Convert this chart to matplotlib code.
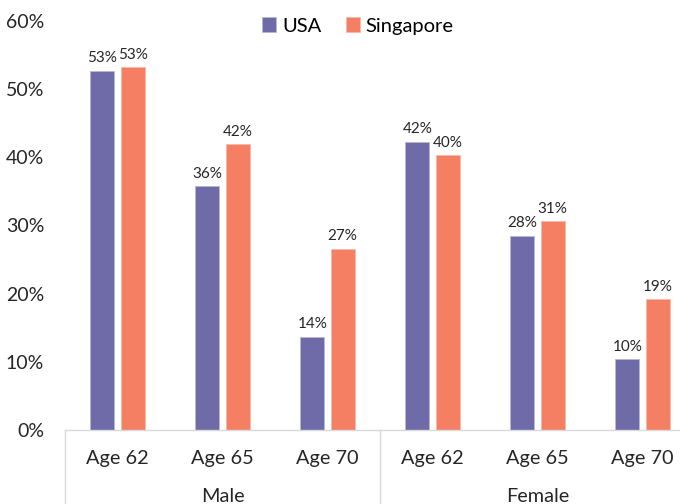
import matplotlib
matplotlib.use("Agg")
import matplotlib.pyplot as plt
import matplotlib.transforms as mtransforms
import numpy as np

# data (percent)
ages = ["Age 62", "Age 65", "Age 70", "Age 62", "Age 65", "Age 70"]
groups = ["Male", "Female"]
usa = [52.7, 35.8, 13.7, 42.3, 28.5, 10.4]
singapore = [53.2, 41.9, 26.6, 40.3, 30.6, 19.2]

usa_color = "#6E6BA8"
sing_color = "#F47F63"

plt.rcParams["font.family"] = ["Lato", "DejaVu Sans"]

fig = plt.figure(figsize=(6.8, 5.04), dpi=100)
# axes runs a bit past the right edge, like the original
ax = fig.add_axes([65 / 680, 74 / 504, 630 / 680, 409 / 504])

x = np.arange(len(ages))
w = 0.225
off = 0.145
b1 = ax.bar(x - off, usa, w, color=usa_color, edgecolor="#B9B7D6", linewidth=0.6, label="USA")
b2 = ax.bar(x + off, singapore, w, color=sing_color, edgecolor="#F9B9A8", linewidth=0.6, label="Singapore")

for bars, vals in [(b1, usa), (b2, singapore)]:
    for r, v in zip(bars, vals):
        ax.text(r.get_x() + r.get_width() / 2, v + 0.8, f"{v:.0f}%",
                ha="center", va="bottom", fontsize=11, color="#262626")

ax.set_xlim(-0.5, len(ages) - 0.5)
ax.set_ylim(0, 60)
ax.set_yticks(range(0, 61, 10))
ax.set_yticklabels([f"{t}%" for t in range(0, 61, 10)], fontsize=14, color="#262626")
ax.tick_params(axis="y", length=0, pad=15)
ax.set_xticks([])

for s in ["top", "right", "left"]:
    ax.spines[s].set_visible(False)
ax.spines["bottom"].set_color("#D9D9D9")
ax.spines["bottom"].set_linewidth(1.0)

# two-level category labels
trans = mtransforms.blended_transform_factory(ax.transData, ax.transAxes)
for i, a in enumerate(ages):
    ax.text(i, -0.07, a, transform=trans, ha="center", va="center", fontsize=14.3, color="#262626")
for j, g in enumerate(groups):
    ax.text(j * 3 + 1, -0.162, g, transform=trans, ha="center", va="center", fontsize=14.3, color="#262626")
for xs in [-0.5, 2.5]:
    ax.plot([xs, xs], [0, -0.25], transform=trans, color="#D9D9D9", lw=1.0, clip_on=False)

leg = fig.legend(loc="center", bbox_to_anchor=(358 / 680, 1 - 26 / 504), ncol=2, frameon=False,
                 fontsize=14.5, handlelength=0.7, handleheight=0.7, handletextpad=0.3, columnspacing=1.2)

fig.savefig("out.png", dpi=100)
